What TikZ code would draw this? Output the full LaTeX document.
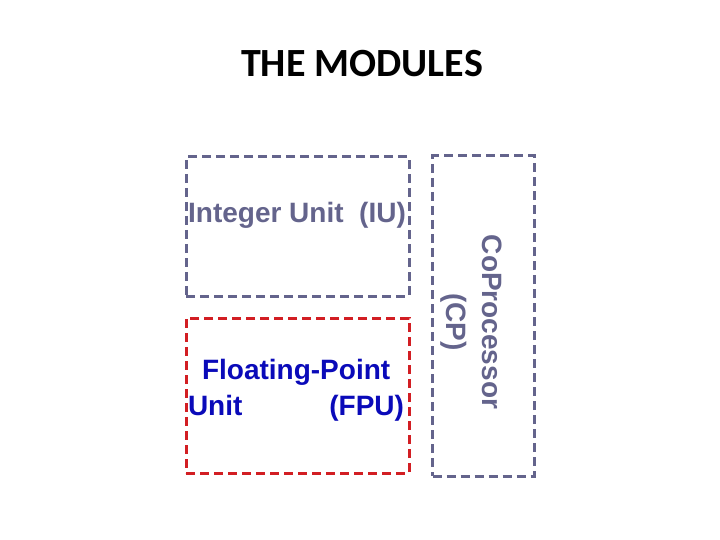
\documentclass[tikz,border=0pt]{standalone}
\usepackage{fontspec}
\setmainfont{Liberation Sans}
\newfontfamily\titlefont{Carlito}

\definecolor{modgray}{RGB}{100,100,140}
\definecolor{modred}{RGB}{210,30,35}
\definecolor{fpublue}{RGB}{10,10,185}

\tikzset{
  modbox/.style={draw=modgray,line width=3pt,dash pattern=on 9pt off 5pt,inner sep=0pt},
  modtext/.style={font=\bfseries\fontsize{28}{36}\selectfont,inner sep=0pt}
}

\begin{document}
\begin{tikzpicture}[x=1pt,y=-1pt]
  \useasboundingbox (0,0) rectangle (720,540);
  \node[font=\titlefont\bfseries\fontsize{40}{44}\selectfont] (title) at (362,64) {THE MODULES};
  % boxes
  \node[modbox,minimum width=223pt,minimum height=139pt] (iu) at (297.5,226.5) {};
  \node[modbox,draw=modred,minimum width=223pt,minimum height=155pt] (fpu) at (297.5,395.5) {};
  \node[modbox,minimum width=102pt,minimum height=320pt] (cp) at (483.5,316) {};
  % labels
  \node[modtext,text=modgray] (iulabel) at (297,215) {Integer Unit\ \ (IU)};
  \node[modtext,text=fpublue,text width=216pt,align=left] (fpulabel) at (296,390)
    {\hspace*{14pt}Floating-Point\\Unit\hfill(FPU)};
  \node[modtext,text=modgray,rotate=-90,align=center] (cplabel) at (471,322) {CoProcessor\\(CP)};
\end{tikzpicture}
\end{document}
